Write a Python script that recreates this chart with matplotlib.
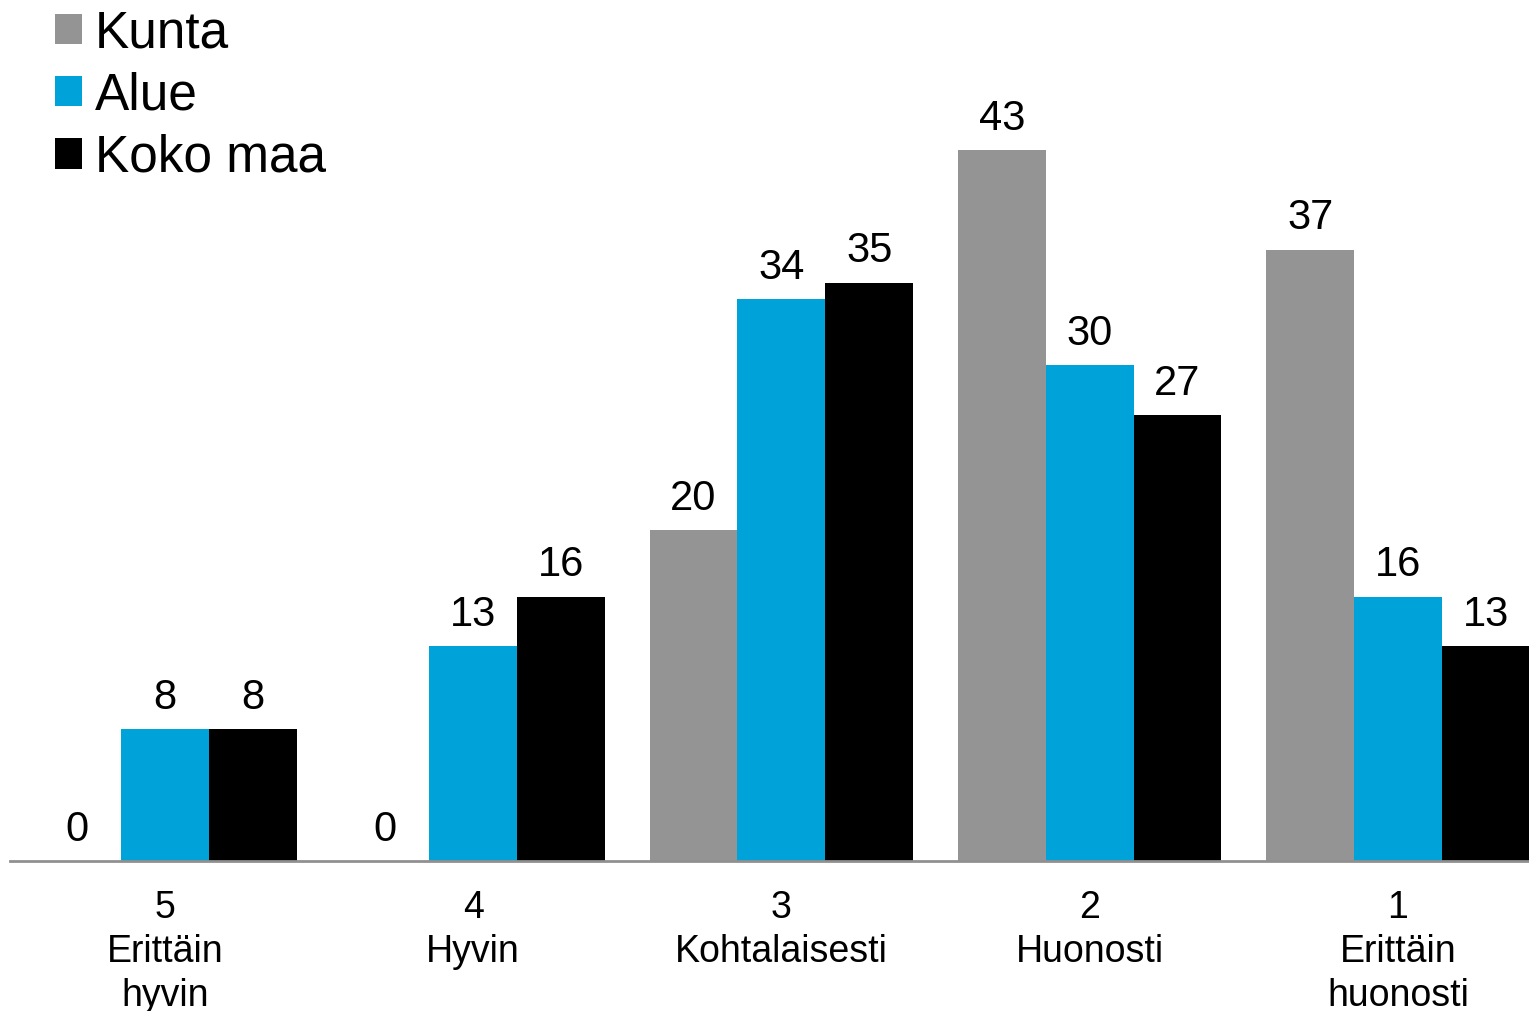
import numpy as np
import matplotlib.pyplot as plt

plt.rcParams['font.family'] = ['Liberation Sans', 'DejaVu Sans']

categories = ['5\nErittäin\nhyvin', '4\nHyvin', '3\nKohtalaisesti', '2\nHuonosti', '1\nErittäin\nhuonosti']
series = ['Kunta', 'Alue', 'Koko maa']
kunta = [0, 0, 20, 43, 37]
alue = [8, 13, 34, 30, 16]
koko_maa = [8, 16, 35, 27, 13]
colors = ['#949494', '#00A3D9', '#000000']

fig = plt.figure(figsize=(15.29, 10.11), dpi=100)
ax = fig.add_axes([10/1529, 150/1011, 1519/1529, 861/1011])

x = np.arange(len(categories))
w = 0.285
for i, (name, vals) in enumerate(zip(series, [kunta, alue, koko_maa])):
    bars = ax.bar(x + (i - 1) * w, vals, w, color=colors[i], label=name)
    ax.bar_label(bars, labels=[str(v) for v in vals], padding=8, fontsize=30)

ax.set_xlim(-0.502, 4.425)
ax.set_ylim(0, 52.1)
ax.set_xticks(x)
ax.set_xticklabels(categories, fontsize=27, linespacing=1.28)
ax.tick_params(axis='x', length=0, pad=21)
ax.set_yticks([])
for s in ['top', 'right', 'left']:
    ax.spines[s].set_visible(False)
ax.spines['bottom'].set_color('#909090')
ax.spines['bottom'].set_linewidth(2)

leg = ax.legend(loc='upper left', bbox_to_anchor=(55/1529, 1 - 9/1011), bbox_transform=fig.transFigure,
                frameon=False, fontsize=37, handlelength=0.53, handleheight=0.53,
                handletextpad=0.25, labelspacing=0.26, borderaxespad=0, borderpad=0)

fig.savefig('out.png', dpi=100)
